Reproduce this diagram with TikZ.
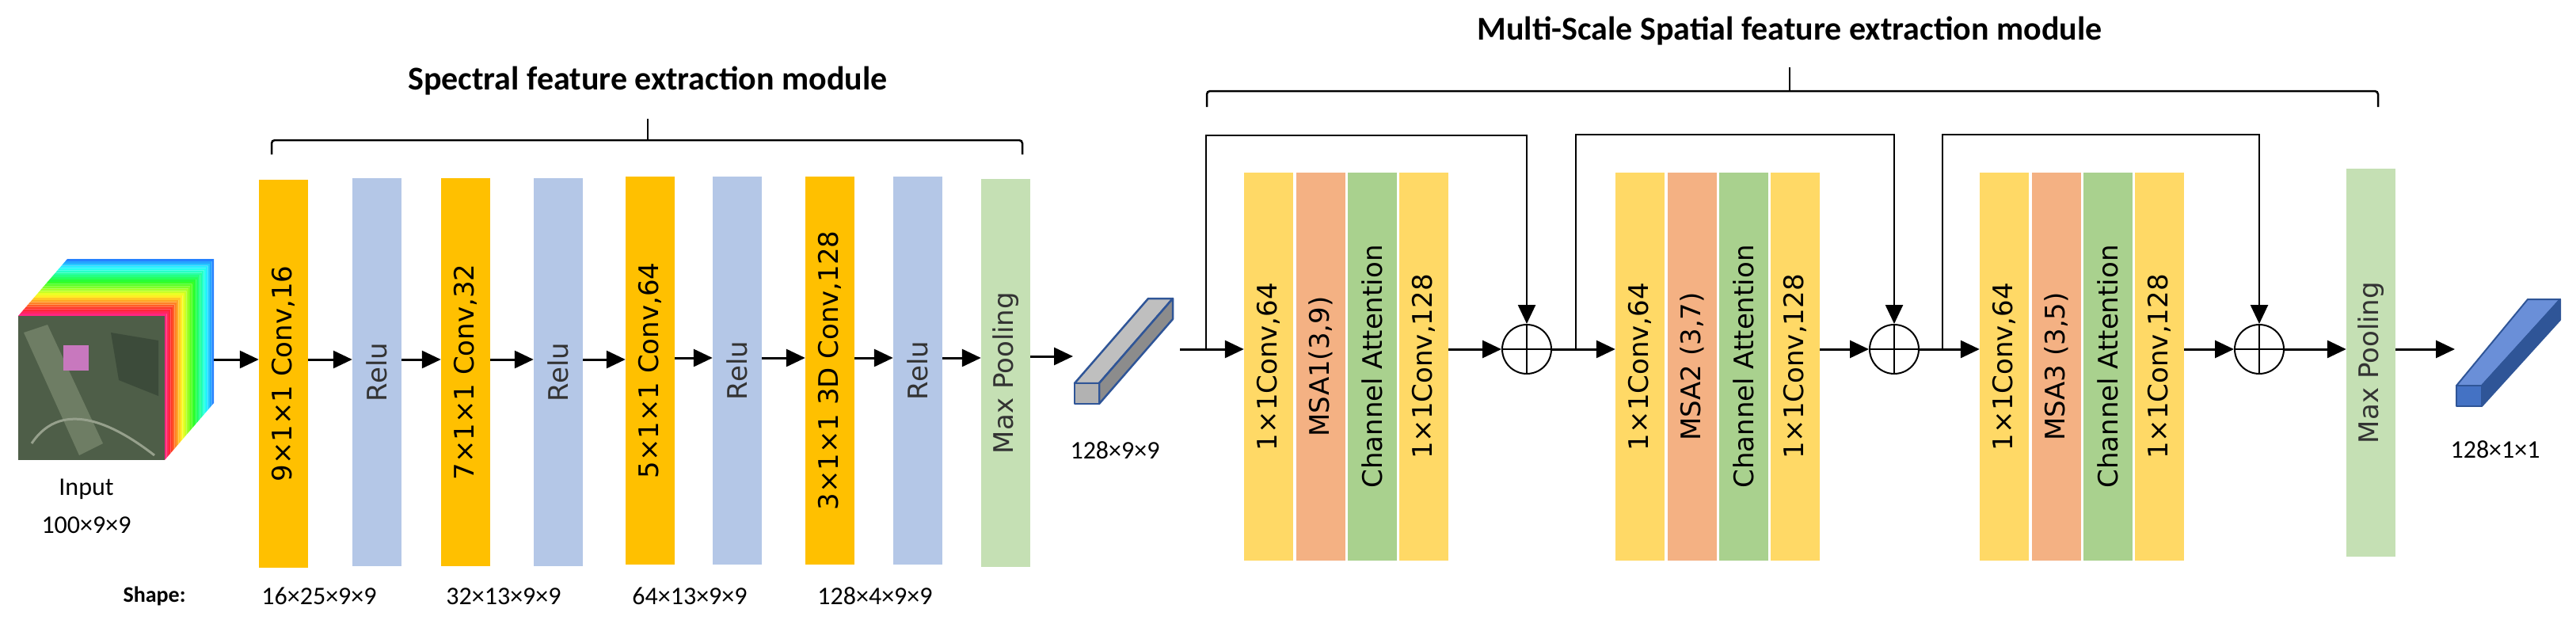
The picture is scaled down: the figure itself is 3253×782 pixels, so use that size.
\documentclass[tikz,border=0pt]{standalone}
\usepackage{fontspec}
\setmainfont{DejaVu Sans}
\newfontfamily\cali{Carlito}
\usetikzlibrary{arrows.meta}
\definecolor{convO}{HTML}{FFC000}
\definecolor{reluB}{HTML}{B4C7E7}
\definecolor{poolG}{HTML}{C5E0B4}
\definecolor{spY}{HTML}{FFD966}
\definecolor{spO}{HTML}{F4B183}
\definecolor{spG}{HTML}{A9D18E}
\definecolor{barE}{HTML}{4472C4}
\definecolor{barD}{HTML}{2F5597}
\definecolor{barT}{HTML}{6A8FD8}
\definecolor{satA}{RGB}{78,94,72}
\definecolor{satB}{RGB}{110,125,100}
\definecolor{satC}{RGB}{60,75,58}
\definecolor{satP}{RGB}{200,120,190}
\definecolor{satR}{RGB}{150,160,140}
\begin{document}
\begin{tikzpicture}[x=1pt,y=-1pt,
  blk/.style={inner sep=0pt,minimum width=62pt,minimum height=490pt,font=\fontsize{34}{38}\selectfont},
  arr/.style={line width=3pt,-{Triangle[length=24pt,width=22pt]}},
  skip/.style={line width=2.5pt,-{Triangle[length=24pt,width=22pt]}},
  ln/.style={line width=2.5pt},
  plus/.style={circle,draw,line width=2pt,minimum size=62pt,inner sep=0pt,
    path picture={\draw[line width=2pt] (path picture bounding box.north)--(path picture bounding box.south)
      (path picture bounding box.west)--(path picture bounding box.east);}},
  lab/.style={font=\cali\fontsize{32}{36}\selectfont},
  title/.style={font=\cali\bfseries\fontsize{42}{46}\selectfont}]
\useasboundingbox (0,0) rectangle (3253,782);
% ---------- input cube ----------
\foreach \i in {0,...,24}{
  \pgfmathsetmacro{\t}{\i/25}
  \pgfmathsetmacro{\u}{(\i+1)/25}
  \pgfmathsetmacro{\h}{mod(335+250*\t,360)}
  \definecolor{tmp}{Hsb}{\h,0.85,1}
  \fill[tmp] (23+62*\t,399-72*\t) -- (208+62*\t,399-72*\t) -- (208+62*\t,581-72*\t)
     -- (208+62*\u,581-72*\u) -- (208+62*\u,399-72*\u) -- (23+62*\u,399-72*\u) -- cycle;
}
\node[inner sep=0pt,minimum width=185pt,minimum height=182pt,fill=satA] (cube) at (115.5,490) {};
\fill[satB] (30,420) -- (60,410) -- (130,560) -- (100,575) -- cycle;
\fill[satC] (140,420) -- (200,430) -- (200,500) -- (150,480) -- cycle;
\fill[satP] (80,436) rectangle (112,468);
\draw[satR,line width=3pt] (40,560) .. controls (80,500) and (150,540) .. (195,575);
\node[lab] (inlab) at (109,618) {Input};
\node[lab] (insz) at (109,663) {100×9×9};
\coordinate (cubeR) at (270,454);
% ---------- spectral blocks ----------
\node[blk,fill=convO] (c1) at (358,472) {\rotatebox{90}{9×1×1 Conv,16}};
\node[blk,fill=reluB,text=black!80] (r1) at (476,470) {\rotatebox{90}{Relu}};
\node[blk,fill=convO] (c2) at (588,470) {\rotatebox{90}{7×1×1 Conv,32}};
\node[blk,fill=reluB,text=black!80] (r2) at (705,470) {\rotatebox{90}{Relu}};
\node[blk,fill=convO] (c3) at (821,468) {\rotatebox{90}{5×1×1 Conv,64}};
\node[blk,fill=reluB,text=black!80] (r3) at (931,468) {\rotatebox{90}{Relu}};
\node[blk,fill=convO] (c4) at (1048,468) {\rotatebox{90}{3×1×1 3D Conv,128}};
\node[blk,fill=reluB,text=black!80] (r4) at (1159,468) {\rotatebox{90}{Relu}};
\node[blk,fill=poolG,text=black!80] (p1) at (1270,471) {\rotatebox{90}{Max Pooling}};
\draw[arr] (cubeR) -- (c1.west |- cubeR);
\draw[arr] (c1.east |- 0,454) -- (r1.west |- 0,454);
\draw[arr] (r1.east |- 0,454) -- (c2.west |- 0,454);
\draw[arr] (c2.east |- 0,454) -- (r2.west |- 0,454);
\draw[arr] (r2.east |- 0,454) -- (c3.west |- 0,454);
\draw[arr] (c3.east |- 0,452) -- (r3.west |- 0,452);
\draw[arr] (r3.east |- 0,452) -- (c4.west |- 0,452);
\draw[arr] (c4.east |- 0,452) -- (r4.west |- 0,452);
\draw[arr] (r4.east |- 0,452) -- (p1.west |- 0,452);
% shapes
\node[font=\cali\bfseries\fontsize{28}{32}\selectfont] (shp) at (195,753) {Shape:};
\node[lab] (s1) at (403,753) {16×25×9×9};
\node[lab] (s2) at (636,753) {32×13×9×9};
\node[lab] (s3) at (871,753) {64×13×9×9};
\node[lab] (s4) at (1105,753) {128×4×9×9};
% brace spectral
\draw[ln,rounded corners=4pt] (343,195) -- (343,177) -- (1291,177) -- (1291,195);
\draw[ln] (818,177) -- (818,150);
\node[title] (t1) at (818,102) {Spectral feature extraction module};
% ---------- bar 1 ----------
\coordinate (b1L) at (1355,450);
\coordinate (b1R) at (1490,441);
\draw[arr] (p1.east |- b1L) -- (b1L);
\begin{scope}[line width=2.5pt,line join=round]
\filldraw[draw=barD,fill=black!25] (1357,484) -- (1450,377) -- (1481,377) -- (1388,484) -- cycle;
\filldraw[draw=barD,fill=black!45] (1388,484) -- (1481,377) -- (1481,403) -- (1388,510) -- cycle;
\filldraw[draw=barD,fill=black!30] (1357,484) rectangle (1388,510);
\end{scope}
\node[lab] (b1lab) at (1408,569) {128×9×9};
% ---------- spatial blocks ----------
\foreach \n/\x/\msa in {1/1571/{MSA1(3,9)},2/2040/{MSA2 (3,7)},3/2500/{MSA3 (3,5)}}{
  \node[blk,fill=spY] (a\n) at (\x+31,463) {\rotatebox{90}{1×1Conv,64}};
  \node[blk,fill=spO] (m\n) at (\x+97,463) {\rotatebox{90}{\msa}};
  \node[blk,fill=spG] (g\n) at (\x+162,463) {\rotatebox{90}{Channel Attention}};
  \node[blk,fill=spY] (d\n) at (\x+227,463) {\rotatebox{90}{1×1Conv,128}};
}
\node[plus] (o1) at (1928,441) {};
\node[plus] (o2) at (2392,441) {};
\node[plus] (o3) at (2853,441) {};
\node[blk,fill=poolG,text=black!80] (p2) at (2994,458) {\rotatebox{90}{Max Pooling}};
\coordinate (k1) at (1523,441);
\coordinate (k2) at (1990,441);
\coordinate (k3) at (2453,441);
\draw[arr] (b1R) -- (a1.west |- b1R);
\draw[arr] (d1.east |- o1) -- (o1);
\draw[arr] (o1) -- (a2.west |- o1);
\draw[arr] (d2.east |- o2) -- (o2);
\draw[arr] (o2) -- (a3.west |- o2);
\draw[arr] (d3.east |- o3) -- (o3);
\draw[arr] (o3) -- (p2.west |- o3);
\draw[skip] (k1) -- (1523,171) -- (1928,171) -- (o1);
\draw[skip] (k2) -- (1990,170) -- (2392,170) -- (o2);
\draw[skip] (k3) -- (2453,170) -- (2853,170) -- (o3);
% ---------- bar 2 ----------
\coordinate (b2L) at (3100,441);
\draw[arr] (p2.east |- b2L) -- (b2L);
\begin{scope}[line width=2pt,line join=round]
\filldraw[draw=barD,fill=barT] (3102,487) -- (3192,378) -- (3233,378) -- (3134,487) -- cycle;
\filldraw[draw=barD,fill=barD] (3134,487) -- (3233,378) -- (3233,404) -- (3134,513) -- cycle;
\filldraw[draw=barD,fill=barE] (3102,487) rectangle (3134,513);
\end{scope}
\node[lab] (b2lab) at (3151,568) {128×1×1};
% brace spatial
\draw[ln,rounded corners=4pt] (1524,135) -- (1524,115) -- (3003,115) -- (3003,135);
\draw[ln] (2260,115) -- (2260,85);
\node[title] (t2) at (2260,39) {Multi-Scale Spatial feature extraction module};
\end{tikzpicture}
\end{document}
